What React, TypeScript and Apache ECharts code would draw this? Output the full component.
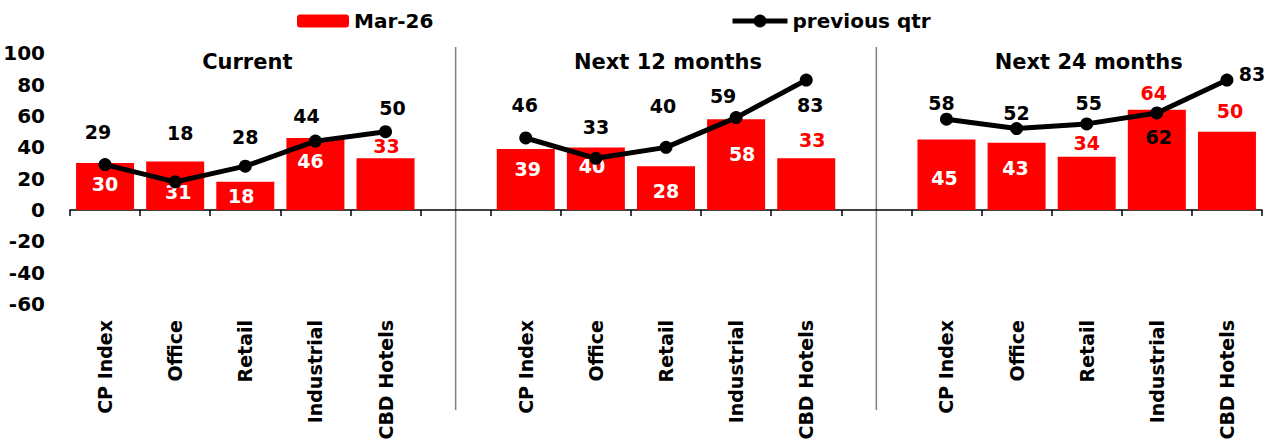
import React, { useEffect, useRef } from "react";
import * as echarts from "echarts";

const categories = [
  "CP Index", "Office", "Retail", "Industrial", "CBD Hotels", "",
  "CP Index", "Office", "Retail", "Industrial", "CBD Hotels", "",
  "CP Index", "Office", "Retail", "Industrial", "CBD Hotels",
];
const marValues = [30, 31, 18, 46, 33, null, 39, 40, 28, 58, 33, null, 45, 43, 34, 64, 50];
const prevValues = [29, 18, 28, 44, 50, null, 46, 33, 40, 59, 83, null, 58, 52, 55, 62, 83];
const sectionTitles = ["Current", "Next 12 months", "Next 24 months"];
const sectionCenterIndex = [2, 8, 14];
const separatorIndex = [5, 11];
const yTicks = { min: -60, max: 100, interval: 20 };

// label placement (pixel nudges), kept apart from the data
const barLabelPlace: ([number, number] | null)[] = [
  [0, 21], [3, 31], [-4, 14], [-5, 23], [1, -12], null,
  [2, 20], [-4, 19], [0, 25], [6, 35], [6, -18], null,
  [-2, 38], [-1, 25], [0, -14], [-3, -17], [3, -21],
];
const lineLabelPlace: ([number, number] | null)[] = [
  [-7, -33], [5, -49], [0, -29], [-9, -25], [7, -24], null,
  [-1, -33], [0, -31], [-3, -41], [-13, -22], [4, 25], null,
  [-5, -16], [0, -16], [2, -21], [2, 24], [25, -6],
];

const FONT = "'DejaVu Sans', sans-serif";
const FS = 19;

export default function App() {
  const ref = useRef<HTMLDivElement>(null);
  useEffect(() => {
    if (!ref.current) return;
    const chart = echarts.init(ref.current, undefined, { renderer: "svg" });
    const txt = { fontFamily: FONT, fontSize: FS, fontWeight: "bold" as const, color: "#000" };

    const barData = marValues.map((v, i) => {
      if (v == null) return null;
      const p = barLabelPlace[i] || [0, 0];
      const above = p[1] < 0;
      return {
        value: v,
        label: {
          show: true,
          position: "top",
          distance: 0,
          offset: [p[0], p[1] + FS / 2],
          color: above ? "#ff0000" : "#ffffff",
        },
      };
    });
    const lineData = prevValues.map((v, i) => {
      if (v == null) return null;
      const p = lineLabelPlace[i] || [0, -20];
      return {
        value: v,
        label: { show: true, position: "inside", offset: p, color: "#000" },
      };
    });

    const option: any = {
      animation: false,
      backgroundColor: "#fff",
      grid: { left: 70, right: 13, top: 53.4, bottom: 140 },
      legend: [
        {
          data: ["Mar-26"], left: 297, top: 11, padding: 0, itemWidth: 52, itemHeight: 13,
          textStyle: { ...txt, fontSize: 20 }, selectedMode: false,
        },
        {
          data: ["previous qtr"], left: 730, top: 11, padding: 0, itemWidth: 55, itemHeight: 16,
          lineStyle: { width: 5, color: "#000" },
          textStyle: { ...txt, fontSize: 20 }, selectedMode: false,
        },
      ],
      xAxis: [
        {
          type: "category",
          data: categories,
          position: "bottom",
          axisLine: { show: false, onZero: false },
          axisTick: { show: false },
          axisLabel: { ...txt, rotate: 90, interval: 0, margin: 16 },
          splitLine: { show: false },
        },
        {
          type: "category",
          data: categories,
          position: "bottom",
          axisLine: { show: true, onZero: true, lineStyle: { color: "#000", width: 1.5 } },
          axisTick: { show: true, interval: 0, length: 6, lineStyle: { color: "#000", width: 1.5 } },
          axisLabel: { show: false },
          splitLine: { show: false },
        },
      ],
      yAxis: {
        type: "value",
        min: yTicks.min,
        max: yTicks.max,
        interval: yTicks.interval,
        axisLine: { show: false },
        axisTick: { show: false },
        splitLine: { show: false },
        axisLabel: { ...txt, fontSize: 20, margin: 25 },
      },
      series: [
        {
          name: "Mar-26",
          type: "bar",
          xAxisIndex: 0,
          data: barData,
          barWidth: 58,
          itemStyle: { color: "#ff0000" },
          label: { ...txt },
        },
        {
          name: "previous qtr",
          type: "line",
          xAxisIndex: 0,
          data: lineData,
          symbol: "circle",
          symbolSize: 13,
          connectNulls: false,
          lineStyle: { color: "#000", width: 5 },
          itemStyle: { color: "#000" },
          label: { ...txt },
          z: 3,
        },
      ],
    };
    chart.setOption(option);

    const graphics: any[] = [];
    separatorIndex.forEach((idx) => {
      const x = chart.convertToPixel({ xAxisIndex: 0 }, idx) as number;
      graphics.push({
        type: "line",
        shape: { x1: x, y1: 47, x2: x, y2: 410 },
        style: { stroke: "#808080", lineWidth: 1.5 },
        silent: true,
      });
    });
    sectionTitles.forEach((t, k) => {
      const x = chart.convertToPixel({ xAxisIndex: 0 }, sectionCenterIndex[k]) as number;
      graphics.push({
        type: "text",
        x: x + 2,
        y: 62,
        style: {
          text: t,
          font: `bold 21px ${FONT}`,
          fill: "#000",
          textAlign: "center",
          textVerticalAlign: "middle",
        },
        silent: true,
      });
    });
    chart.setOption({ graphic: graphics });

    return () => chart.dispose();
  }, []);

  return (
    <div
      ref={ref}
      style={{ position: "fixed", left: 0, top: 0, width: 1275, height: 444, background: "#fff" }}
    />
  );
}
